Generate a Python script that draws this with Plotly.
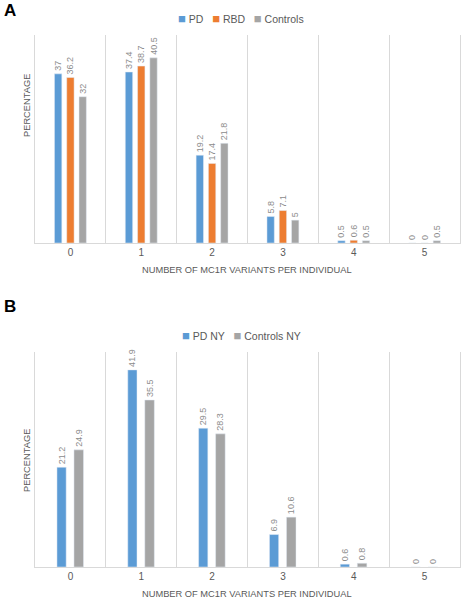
import plotly.graph_objects as go

categories = [0, 1, 2, 3, 4, 5]
tick_labels = ["0", "1", "2", "3", "4", "5"]

pd_a = [37, 37.4, 19.2, 5.8, 0.5, 0]
rbd_a = [36.2, 38.7, 17.4, 7.1, 0.6, 0]
controls_a = [32, 40.5, 21.8, 5, 0.5, 0.5]

pd_ny = [21.2, 41.9, 29.5, 6.9, 0.6, 0]
controls_ny = [24.9, 35.5, 28.3, 10.6, 0.8, 0]

BLUE = "#5B9BD5"
ORANGE = "#ED7D31"
GREY = "#A5A5A5"
TXT = "#595959"
LBL = "#8C8C8C"
GRID = "#D9D9D9"
FONT = "Liberation Sans"

fig = go.Figure()

def add_bar(name, vals, color, xa, ya, width=None, offset=None):
    fig.add_trace(go.Bar(
        x=categories, y=vals, name=name, marker_color=color,
        text=[str(v) for v in vals], textposition="outside", textangle=-90,
        constraintext="none",
        textfont=dict(size=9, color=LBL, family=FONT), cliponaxis=False,
        xaxis=xa, yaxis=ya, offsetgroup=name, showlegend=False,
        width=width, offset=offset,
    ))

add_bar("PD", pd_a, BLUE, "x", "y")
add_bar("RBD", rbd_a, ORANGE, "x", "y")
add_bar("Controls", controls_a, GREY, "x", "y")
add_bar("PD NY", pd_ny, BLUE, "x2", "y2", width=0.13, offset=-0.19)
add_bar("Controls NY", controls_ny, GREY, "x2", "y2", width=0.135, offset=0.05)

xdom = [35 / 462, 460 / 462]

def px(y):
    return 1 - y / 600

xcommon = dict(
    domain=xdom, range=[-0.5, 5.5], tickvals=categories, ticktext=tick_labels,
    showgrid=False, zeroline=False, showline=True, linecolor=GRID, linewidth=1,
    ticks="", tickfont=dict(size=10, color=TXT, family=FONT),
    minor=dict(tickmode="linear", tick0=-0.5, dtick=1, showgrid=True, gridcolor=GRID, gridwidth=1, ticks=""),
)
ycommon = dict(showticklabels=False, showgrid=False, zeroline=False,
               showline=True, linecolor=GRID, mirror=True, ticks="")

fig.update_layout(
    width=462, height=600, margin=dict(l=0, r=0, t=0, b=0),
    paper_bgcolor="white", plot_bgcolor="white",
    font=dict(family=FONT, color=TXT),
    barmode="group", showlegend=False,
    xaxis=dict(xcommon, anchor="y"),
    yaxis=dict(ycommon, domain=[px(243), px(35)], range=[0, 45.5], anchor="x"),
    xaxis2=dict(xcommon, anchor="y2"),
    yaxis2=dict(ycommon, domain=[px(567), px(352)], range=[0, 45.7], anchor="x2"),
    bargap=0.48, bargroupgap=0.4,
)

def sq(c):
    return f'<span style="color:{c};font-size:13px">■</span>'

legend_a = f"{sq(BLUE)} PD   {sq(ORANGE)} RBD   {sq(GREY)} Controls"
legend_b = f"{sq(BLUE)} PD NY   {sq(GREY)} Controls NY"

annotations = [
    dict(text="<b>A</b>", x=2 / 462, y=px(10), xanchor="left", yanchor="middle",
         font=dict(size=17, color="black", family=FONT)),
    dict(text="<b>B</b>", x=2 / 462, y=px(306), xanchor="left", yanchor="middle",
         font=dict(size=17, color="black", family=FONT)),
    dict(text=legend_a, x=241 / 462, y=px(18), xanchor="center", yanchor="middle",
         font=dict(size=10.5, color=TXT, family=FONT)),
    dict(text=legend_b, x=241 / 462, y=px(335), xanchor="center", yanchor="middle",
         font=dict(size=10.5, color=TXT, family=FONT)),
    dict(text="NUMBER OF MC1R VARIANTS PER INDIVIDUAL", x=247 / 462, y=px(270),
         xanchor="center", yanchor="middle", font=dict(size=9.3, color=TXT, family=FONT)),
    dict(text="NUMBER OF MC1R VARIANTS PER INDIVIDUAL", x=247 / 462, y=px(594),
         xanchor="center", yanchor="middle", font=dict(size=9.3, color=TXT, family=FONT)),
    dict(text="PERCENTAGE", x=27 / 462, y=px(106), textangle=-90,
         xanchor="center", yanchor="middle", font=dict(size=9.3, color=TXT, family=FONT)),
    dict(text="PERCENTAGE", x=27 / 462, y=px(461), textangle=-90,
         xanchor="center", yanchor="middle", font=dict(size=9.3, color=TXT, family=FONT)),
]
for a in annotations:
    a.update(xref="paper", yref="paper", showarrow=False)
fig.update_layout(annotations=annotations)

fig.write_html(
    "out.html",
    config={"displayModeBar": False},
    post_script="document.body.style.margin='0';document.body.style.overflow='hidden';",
)
